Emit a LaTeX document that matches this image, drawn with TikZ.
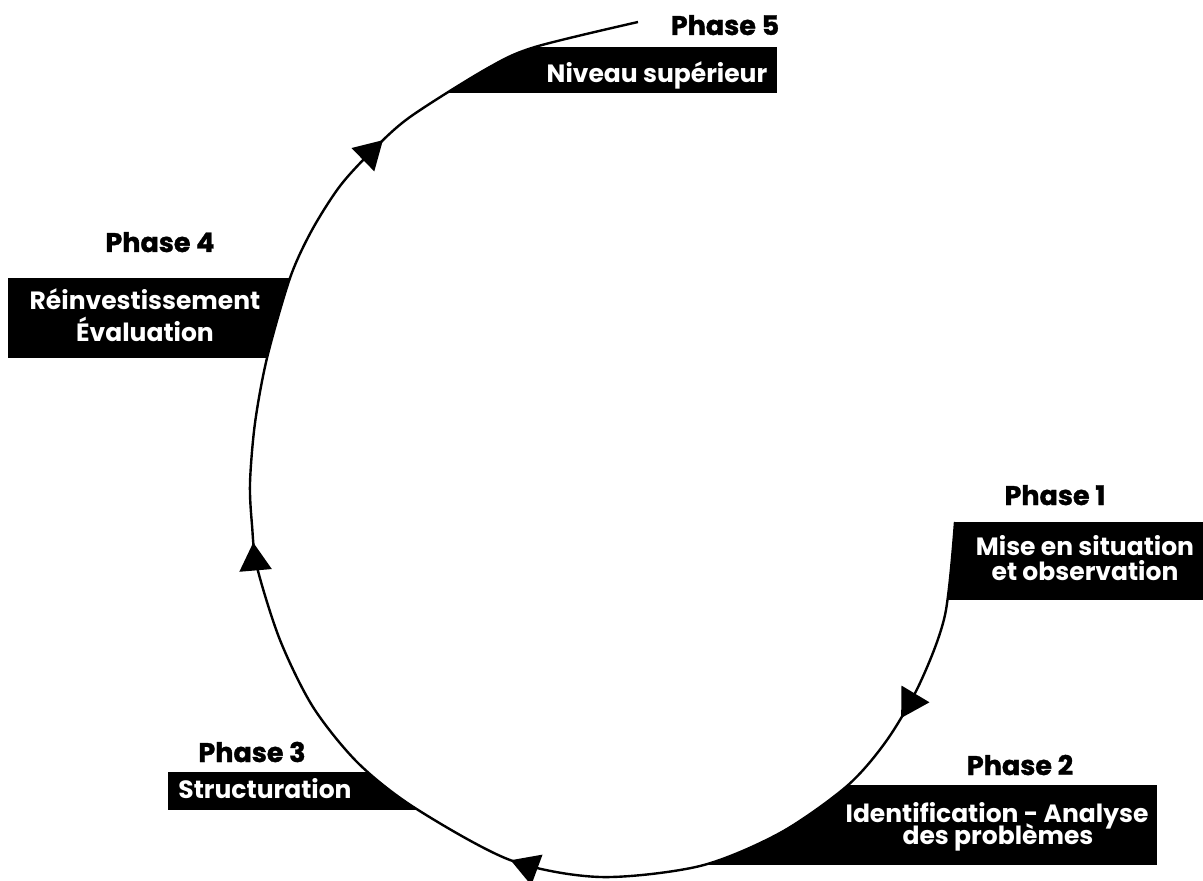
\documentclass[tikz,border=0pt]{standalone}
\usepackage{fontspec}
\setmainfont{Poppins}
\newfontfamily\phasefont{Poppins}[BoldFeatures={FakeBold=1.3}]
\usetikzlibrary{arrows.meta,decorations.markings}
\tikzset{cyctip/.tip={Triangle[length=14pt,width=16pt]}}
\begin{document}
\begin{tikzpicture}[x=0.5pt,y=-0.5pt,
  phase/.style={font=\phasefont\fontsize{13.5}{16}\selectfont\bfseries, anchor=base, inner sep=0pt},
  boxtext/.style={font=\fontsize{12.5}{14}\selectfont\bfseries, text=white, anchor=base, inner sep=0pt},
  cyc/.style={line width=1.2pt, postaction=decorate,
    decoration={markings,
      mark=at position 0.114 with {\arrow{cyctip}},
      mark=at position 0.362 with {\arrow{cyctip}},
      mark=at position 0.600 with {\arrow{cyctip}},
      mark=at position 0.842 with {\arrow{cyctip}}}}
]
\useasboundingbox (0,0) rectangle (1203,881);
% curve points
\coordinate (A) at (955,522);
\coordinate (B) at (945,615);
\coordinate (C) at (920,683);
\coordinate (D) at (887,740);
\coordinate (E) at (847,786);
\coordinate (F) at (780,833);
\coordinate (G) at (700,866);
\coordinate (H) at (600,877);
\coordinate (I) at (510,860);
\coordinate (J) at (415,808);
\coordinate (K) at (358,763);
\coordinate (L) at (313,707);
\coordinate (M) at (280,640);
\coordinate (N) at (257,567);
\coordinate (N2) at (252,525);
\coordinate (O) at (250,483);
\coordinate (P) at (255,423);
\coordinate (Q) at (267,358);
\coordinate (R) at (290,278);
\coordinate (R2) at (312,230);
\coordinate (S) at (340,186);
\coordinate (S2) at (372,151);
\coordinate (T) at (410,117);
\coordinate (U) at (488,68);
\coordinate (X) at (535,47);
\coordinate (W) at (638,22);

% Phase 5 box
\begin{scope}
\clip plot[smooth] coordinates {(R) (R2) (S) (S2) (T) (U) (X) (W)} -- (900,22) -- (900,300) -- (290,300) -- cycle;
\fill (400,47) rectangle (777,93);
\end{scope}
% Phase 4 box
\begin{scope}
\clip plot[smooth] coordinates {(O) (P) (Q) (R) (R2) (S) (S2) (T)} -- (0,117) -- (0,483) -- cycle;
\fill (8,278) rectangle (320,358);
\end{scope}
% Phase 1 box
\begin{scope}
\clip (955,400) -- plot[smooth] coordinates {(A) (B) (C) (D)} -- (1250,740) -- (1250,400) -- cycle;
\fill (930,522) rectangle (1203,600);
\end{scope}
% Phase 2 box
\begin{scope}
\clip plot[smooth] coordinates {(B) (C) (D) (E) (F) (G) (H) (I)} -- (510,900) -- (1250,900) -- (1250,615) -- cycle;
\fill (650,785) rectangle (1157,865);
\end{scope}
% Phase 3 box
\begin{scope}
\clip plot[smooth] coordinates {(H) (I) (J) (K) (L) (M)} -- (0,640) -- (0,900) -- (600,900) -- cycle;
\fill (168,772) rectangle (460,810);
\end{scope}

% cycle curve
\draw[cyc] plot[smooth] coordinates {(A) (B) (C) (D) (E) (F) (G) (H) (I) (J) (K) (L) (M) (N) (N2) (O) (P) (Q) (R) (R2) (S) (S2) (T) (U) (X) (W)};

% labels
\node[phase] (p5) at (725,35) {Phase 5};
\node[boxtext] (t5) at (657,83) {Niveau supérieur};
\node[phase] (p4) at (160,252) {Phase 4};
\node[boxtext] (t4a) at (145,310) {Réinvestissement};
\node[boxtext] (t4b) at (145,342) {Évaluation};
\node[phase] (p1) at (1055,505) {Phase 1};
\node[boxtext] (t1a) at (1085,555) {Mise en situation};
\node[boxtext] (t1b) at (1085,580) {et observation};
\node[phase] (p2) at (1020,775) {Phase 2};
\node[boxtext] (t2a) at (997,822) {Identification - Analyse};
\node[boxtext] (t2b) at (998,844) {des problèmes};
\node[phase] (p3) at (252,762) {Phase 3};
\node[boxtext] (t3) at (265,798) {Structuration};
\end{tikzpicture}
\end{document}
